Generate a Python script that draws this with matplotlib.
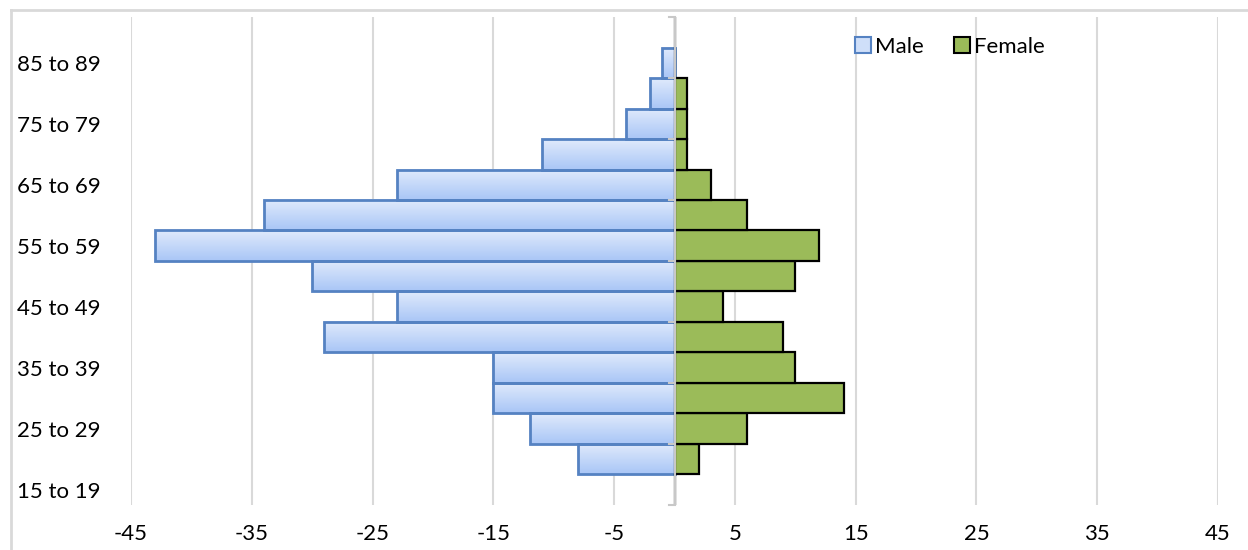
import numpy as np
import matplotlib
matplotlib.use("Agg")
import matplotlib.pyplot as plt
from matplotlib.patches import Rectangle
from matplotlib.colors import LinearSegmentedColormap
from matplotlib.lines import Line2D

plt.rcParams["font.family"] = ["Lato", "DejaVu Sans"]

# Age groups, youngest first
age_groups = ["15 to 19", "20 to 24", "25 to 29", "30 to 34", "35 to 39",
              "40 to 44", "45 to 49", "50 to 54", "55 to 59", "60 to 64",
              "65 to 69", "70 to 74", "75 to 79", "80 to 84", "85 to 89",
              "90 to 94"]
male = [0, -8, -12, -15, -15, -29, -23, -30, -43, -34, -23, -11, -4, -2, -1, 0]
female = [0, 2, 6, 14, 10, 9, 4, 10, 12, 6, 3, 1, 1, 1, 0, 0]
x_ticks = [-45, -35, -25, -15, -5, 5, 15, 25, 35, 45]

MALE_EDGE = "#5582c2"
FEMALE_FILL = "#9bbb59"
GRID = "#d9d9d9"
FS = 16

fig = plt.figure(figsize=(12.48, 5.5), dpi=100)
ax = fig.add_axes([0.105, 0.082, 0.871, 0.887])

grad = LinearSegmentedColormap.from_list("male_grad", ["#a9c6f6", "#e0eafc"])
g = np.linspace(0, 1, 64).reshape(-1, 1)

y = np.arange(len(age_groups))
for i, (m, f) in enumerate(zip(male, female)):
    if m != 0:
        ax.imshow(g, cmap=grad, aspect="auto", origin="lower",
                  extent=[m, 0, i - 0.5, i + 0.5], zorder=2)
        ax.add_patch(Rectangle((m, i - 0.5), -m, 1.0, fill=False,
                               edgecolor=MALE_EDGE, linewidth=2.0, zorder=3))
ax.barh(y, female, height=1.0, color=FEMALE_FILL, edgecolor="black",
        linewidth=1.6, zorder=3)

ax.set_xlim(-45, 45)
ax.set_ylim(-0.5, len(age_groups) - 0.5)
ax.set_xticks(x_ticks)
ax.set_xticklabels([str(t) for t in x_ticks], fontsize=FS)
ax.set_yticks(y[::2])
ax.set_yticklabels(age_groups[::2], fontsize=FS, ha="left")
ax.tick_params(axis="both", length=0)
ax.tick_params(axis="x", pad=14)
ax.tick_params(axis="y", pad=82)

for t in x_ticks:
    ax.axvline(t, color=GRID, linewidth=1.5, zorder=0)
ax.axvline(0, color="#c8c8c8", linewidth=1.5, zorder=4)
# small tick marks on the centre axis
for b in np.arange(-0.5, len(age_groups), 2):
    ax.plot([-0.5, 0], [b, b], color="#c8c8c8", linewidth=1.5,
            zorder=4, clip_on=False)

for s in ax.spines.values():
    s.set_visible(False)

handles = [
    Line2D([], [], marker="s", linestyle="none", markersize=11,
           markerfacecolor="#cfdff9", markeredgecolor=MALE_EDGE,
           markeredgewidth=1.5, label="Male"),
    Line2D([], [], marker="s", linestyle="none", markersize=11,
           markerfacecolor=FEMALE_FILL, markeredgecolor="black",
           markeredgewidth=1.5, label="Female"),
]
ax.legend(handles=handles, loc="upper left", bbox_to_anchor=(0.645, 1.0),
          ncol=2, frameon=False, fontsize=FS, handletextpad=0.05,
          columnspacing=1.2, handlelength=1.0)

# outer chart border, partly visible at the top and left
fig.add_artist(Line2D([11 / 1248, 11 / 1248], [0, 1 - 10 / 550],
                      transform=fig.transFigure, color=GRID, linewidth=2))
fig.add_artist(Line2D([11 / 1248, 1], [1 - 10 / 550, 1 - 10 / 550],
                      transform=fig.transFigure, color=GRID, linewidth=2))

fig.savefig("out.png", dpi=100)
